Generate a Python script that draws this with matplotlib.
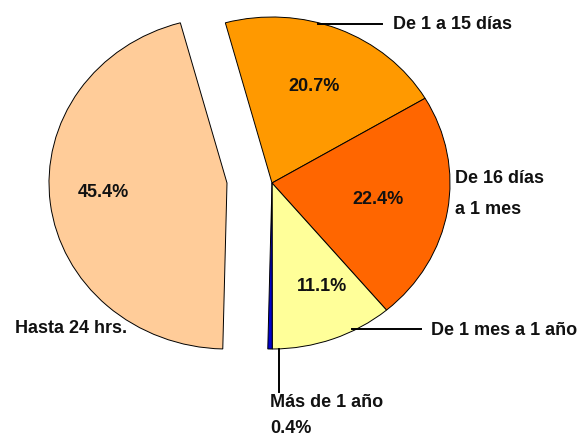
import matplotlib

matplotlib.use("Agg")

import matplotlib.pyplot as plt


categories = ["De 1 a 15 días", "De 16 días\na 1 mes", "De 1 mes a 1 año", "Más de 1 año", "Hasta 24 hrs."]
shares = [20.7, 22.4, 11.1, 0.4, 45.4]
colors = ["#FF9900", "#FF6600", "#FFFF99", "#0000CC", "#FFCC99"]

# pixel geometry of the reference (centre and radii of the slightly flattened pie)
W, H = 582, 445
CX, CY = 272, 183
RX, RY = 178, 166
PULL_PX = 45  # the "Hasta 24 hrs." slice is pulled out to the left


def px(x, y):
    """Pixel position in the image -> data coordinates of the pie axes."""
    return (x - CX) / RX, (CY - y) / RY


plt.rcParams["font.family"] = ["Liberation Sans", "DejaVu Sans"]
plt.rcParams["font.weight"] = "bold"

fig = plt.figure(figsize=(W / 100, H / 100), dpi=100)
ax = fig.add_axes([0, 0, 1, 1])

wedges, _ = ax.pie(
    shares,
    colors=colors,
    startangle=105.2,
    counterclock=False,
    wedgeprops={"edgecolor": "black", "linewidth": 0.7},
)
wedges[4].set_center((-PULL_PX / RX, 0))
ax.set_aspect("auto")
ax.set_xlim(-CX / RX, (W - CX) / RX)
ax.set_ylim(-(H - CY) / RY, CY / RY)
ax.axis("off")

text_kw = dict(fontsize=13, fontweight="bold", color="#111111", va="baseline")

# percentage labels inside the slices (baseline positions in pixels)
pct_pos = [(314, 91), (378, 204), (322, 291), None, (103, 197)]
for share, pos in zip(shares, pct_pos):
    if pos is None:
        continue
    ax.text(*px(*pos), f"{share:.1f}%", ha="center", **text_kw)

# category labels with leader lines
ax.plot(*zip(px(318, 24), px(382, 24)), color="black", lw=1.4)
ax.text(*px(393, 29), categories[0], ha="left", **text_kw)

first, second = categories[1].split("\n")
ax.text(*px(455, 183), first, ha="left", **text_kw)
ax.text(*px(455, 214), second, ha="left", **text_kw)

ax.plot(*zip(px(352, 329), px(421, 329)), color="black", lw=1.4)
ax.text(*px(431, 335), categories[2], ha="left", **text_kw)

ax.plot(*zip(px(279, 349), px(279, 392)), color="black", lw=1.4)
ax.text(*px(270, 407), categories[3], ha="left", **text_kw)
ax.text(*px(270, 433), f"{shares[3]:.1f}%", ha="left", **text_kw)

ax.text(*px(15, 333), categories[4], ha="left", **text_kw)

fig.savefig("out.png", dpi=100)
